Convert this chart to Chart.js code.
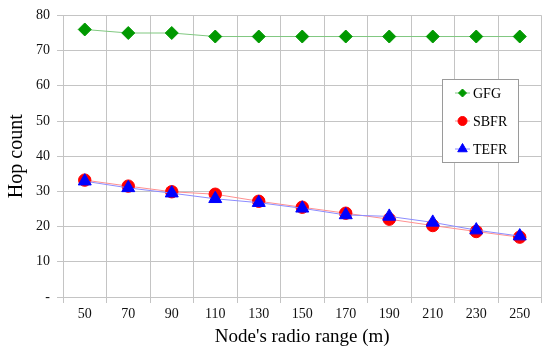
<!DOCTYPE html>
<html>
<head>
<meta charset="utf-8">
<script src="https://cdn.jsdelivr.net/npm/chart.js@4/dist/chart.umd.min.js"></script>
<style>
  html, body { margin: 0; padding: 0; background: #fff; }
  #wrap { width: 550px; height: 351px; position: relative; }
</style>
</head>
<body>
<div id="wrap"><canvas id="hopChart" width="550" height="351"></canvas></div>
<script>
const ranges = ['50', '70', '90', '110', '130', '150', '170', '190', '210', '230', '250'];
const gfg  = [76, 75, 75, 74, 74, 74, 74, 74, 74, 74, 74];
const sbfr = [33.2, 31.5, 29.9, 29.2, 27.2, 25.5, 23.8, 22.1, 20.3, 18.6, 17.0];
const tefr = [32.9, 31.0, 29.5, 27.9, 26.8, 25.2, 23.3, 22.9, 21.2, 19.0, 17.3];

const SERIF = '"Liberation Serif", "Times New Roman", serif';

// order: lower draws on top, TEFR triangles sit over SBFR circles
const series = [
    { label: 'GFG',  data: gfg,  line: '#80c880', mark: '#009900', style: 'rectRot',  r: 6.5, lr: 4,   order: 2 },
    { label: 'SBFR', data: sbfr, line: '#ff9090', mark: '#ff0000', style: 'circle',   r: 6.2, lr: 4.5, order: 1 },
    { label: 'TEFR', data: tefr, line: '#8c8cff', mark: '#0000ff', style: 'triangle', r: 7.5, lr: 5.5, order: 0 }
];

// legend box drawn on the canvas, line sample with marker
const boxLegend = {
    id: 'boxLegend',
    afterDraw(chart) {
        const ctx = chart.ctx;
        const x = 442, y = 79, w = 76, h = 83;
        ctx.save();
        ctx.fillStyle = '#fff';
        ctx.strokeStyle = '#9a9a9a';
        ctx.lineWidth = 1;
        ctx.fillRect(x, y, w, h);
        ctx.strokeRect(x + 0.5, y + 0.5, w, h);
        ctx.font = '14px ' + SERIF;
        ctx.textBaseline = 'middle';
        series.forEach((s, i) => {
            const cy = y + 14 + i * 28;
            ctx.strokeStyle = s.line;
            ctx.beginPath();
            ctx.moveTo(455, cy);
            ctx.lineTo(470, cy);
            ctx.stroke();
            ctx.fillStyle = s.mark;
            ctx.strokeStyle = s.mark;
            Chart.helpers.drawPoint(ctx, { pointStyle: s.style, radius: s.lr, borderWidth: 1, rotation: 0 }, 462.5, cy);
            ctx.fillStyle = '#000';
            ctx.fillText(s.label, 473, cy + 1);
        });
        ctx.restore();
    }
};

new Chart(document.getElementById('hopChart'), {
    type: 'line',
    data: {
        labels: ranges,
        datasets: series.map(s => ({
            label: s.label,
            data: s.data,
            order: s.order,
            borderColor: s.line,
            borderWidth: 1,
            backgroundColor: s.mark,
            pointBackgroundColor: s.mark,
            pointBorderColor: s.mark,
            pointStyle: s.style,
            pointRadius: s.r,
            tension: 0,
            fill: false
        }))
    },
    options: {
        responsive: false,
        animation: false,
        layout: { padding: { top: 11, right: 7, left: 0, bottom: 0 } },
        plugins: {
            legend: { display: false },
            tooltip: { enabled: false }
        },
        scales: {
            x: {
                offset: true,
                grid: { offset: true, color: '#c4c4c4', tickLength: 6 },
                border: { color: '#c4c4c4' },
                ticks: { color: '#111', font: { family: SERIF, size: 14 }, padding: 3, maxRotation: 0 },
                title: { display: true, text: "Node's radio range (m)", color: '#000', font: { family: SERIF, size: 19 }, padding: { top: 0, bottom: 3 } },
                afterFit(scale) { scale.height = 54; }
            },
            y: {
                min: 0,
                max: 80,
                grid: { color: '#c4c4c4', tickLength: 6 },
                border: { color: '#c4c4c4' },
                ticks: {
                    stepSize: 10,
                    color: '#111',
                    font: { family: SERIF, size: 14 },
                    padding: 7,
                    callback: v => v === 0 ? '-' : v
                },
                title: { display: true, text: 'Hop count', color: '#000', font: { family: SERIF, size: 20 }, padding: { top: 5, bottom: 0 } },
                afterFit(scale) { scale.width = 63; }
            }
        }
    },
    plugins: [boxLegend]
});
</script>
</body>
</html>
